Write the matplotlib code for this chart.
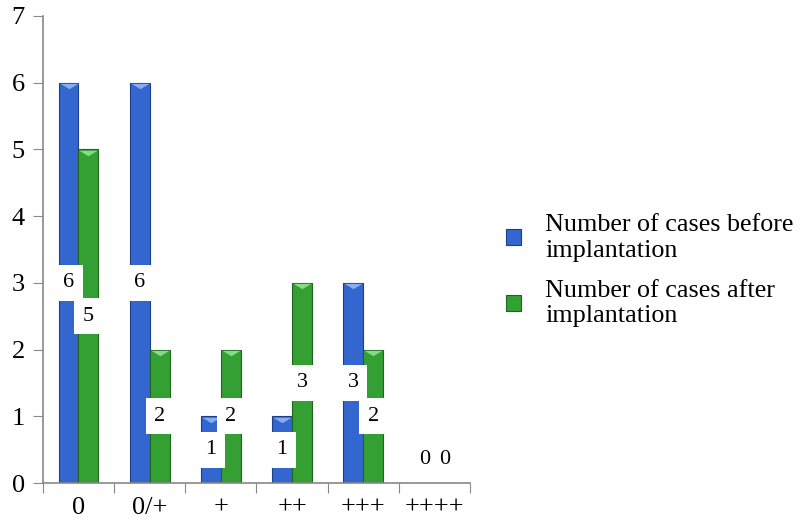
import matplotlib.pyplot as plt
import numpy as np

plt.rcParams['font.family'] = ['Liberation Serif', 'DejaVu Serif']

categories = ["0", "0/+", "+", "++", "+++", "++++"]
before = [6, 6, 1, 1, 3, 0]
after = [5, 2, 2, 3, 2, 0]
series_names = ["Number of cases before\nimplantation",
                "Number of cases after\nimplantation"]

blue = "#3466d0"
blue_edge = "#1e3d8a"
green = "#34a034"
green_edge = "#1d661d"

fig = plt.figure(figsize=(8.09, 5.28), dpi=100)
ax = fig.add_axes([0.053, 0.0852, 0.528, 0.8845])

x = np.arange(len(categories))
w = 0.28

b1 = ax.bar(x - w / 2, before, w, color=blue, edgecolor=blue_edge, linewidth=0.8,
            label=series_names[0], zorder=2)
b2 = ax.bar(x + w / 2, after, w, color=green, edgecolor=green_edge, linewidth=0.8,
            label=series_names[1], zorder=2)

# light bevel triangle at the top of each bar
bevel = [(-1, 0.3), (1, 0.3), (0, -0.3)]
for xs, vals, col in [(x - w / 2, before, "#86aef2"), (x + w / 2, after, "#86dc86")]:
    for xi, v in zip(xs, vals):
        if v > 0:
            ax.plot(xi, v - 0.05, marker=bevel, markersize=13, color=col,
                    markeredgewidth=0, zorder=3)

# value labels in white boxes
for xs, vals in [(x - w / 2, before), (x + w / 2, after)]:
    for xi, v in zip(xs, vals):
        if v > 0:
            ax.text(xi, v / 2, str(v), ha="center", va="center", fontsize=16,
                    zorder=4, bbox=dict(boxstyle="square,pad=0.38", fc="white", ec="none"))
        else:
            ax.text(xi, 0.35, str(v), ha="center", va="center", fontsize=16, zorder=4)

ax.set_xlim(-0.5, len(categories) - 0.5)
ax.set_ylim(0, 7)
ax.set_yticks(range(0, 8))
ax.tick_params(axis="y", labelsize=19, length=7, color="#888888", pad=6)
ax.set_xticks(np.arange(len(categories) + 1) - 0.5)
ax.set_xticklabels([])
ax.set_xticks(x, minor=True)
ax.set_xticklabels(categories, minor=True)
ax.tick_params(axis="x", which="major", length=7, color="#888888")
ax.tick_params(axis="x", which="minor", length=0, labelsize=19, pad=10)

for s in ["top", "right"]:
    ax.spines[s].set_visible(False)
for s in ["left", "bottom"]:
    ax.spines[s].set_color("#888888")
    ax.spines[s].set_linewidth(1.2)

leg = fig.legend(handles=[b1, b2], loc="center left", bbox_to_anchor=(0.6, 0.487),
                 frameon=False, fontsize=18.8, handlelength=0.55, handleheight=0.55,
                 handletextpad=0.95, labelspacing=0.7, borderpad=0.3)

fig.savefig("out.png", dpi=100)
